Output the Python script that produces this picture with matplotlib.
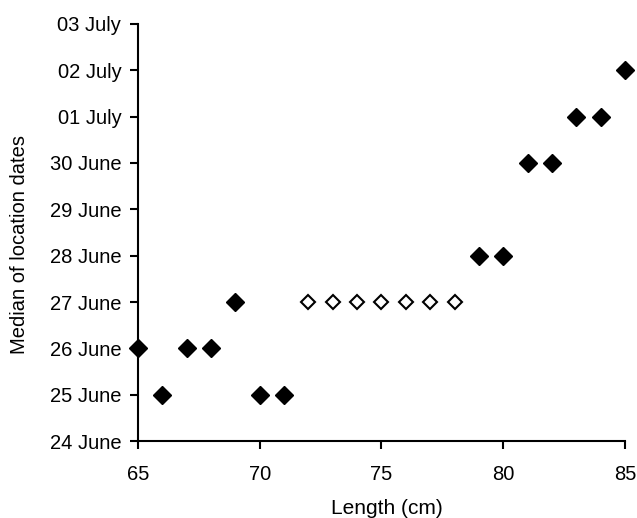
import matplotlib
matplotlib.use('Agg')
import matplotlib.pyplot as plt

plt.rcParams['font.family'] = ['Liberation Sans', 'DejaVu Sans']

# lengths (cm) and median location date (day number, 24 = 24 June, 31 = 01 July)
len_filled = [65, 66, 67, 68, 69, 70, 71, 79, 80, 81, 82, 83, 84, 85]
day_filled = [26, 25, 26, 26, 27, 25, 25, 28, 28, 30, 30, 31, 31, 32]
len_open = [72, 73, 74, 75, 76, 77, 78]
day_open = [27, 27, 27, 27, 27, 27, 27]

y_ticks = [24, 25, 26, 27, 28, 29, 30, 31, 32, 33]
y_labels = ['24 June', '25 June', '26 June', '27 June', '28 June', '29 June',
            '30 June', '01 July', '02 July', '03 July']
x_ticks = [65, 70, 75, 80, 85]

fig = plt.figure(figsize=(6.37, 5.18), dpi=100)
ax = fig.add_axes([0.2166, 0.1486, 0.7645, 0.8051])

ax.plot(len_filled, day_filled, 'D', color='black', markersize=9, clip_on=False)
ax.plot(len_open, day_open, 'D', markerfacecolor='white', markeredgecolor='black',
        markeredgewidth=1.5, markersize=7, clip_on=False)

ax.set_xlim(65, 85)
ax.set_ylim(24, 33)
ax.set_xticks(x_ticks)
ax.set_yticks(y_ticks)
ax.set_yticklabels(y_labels)
ax.tick_params(labelsize=14.5, width=1.5, length=6, direction='out')
ax.tick_params(axis='x', pad=11)
ax.tick_params(axis='y', pad=6)
ax.spines['top'].set_visible(False)
ax.spines['right'].set_visible(False)
ax.spines['left'].set_linewidth(1.5)
ax.spines['bottom'].set_linewidth(1.5)
ax.set_xlabel('Length (cm)', fontsize=15, va='center')
ax.xaxis.set_label_coords(0.608, 0.018, transform=fig.transFigure)
ax.set_ylabel('Median of location dates', fontsize=14.5, va='center')
ax.yaxis.set_label_coords(0.031, 0.528, transform=fig.transFigure)

fig.savefig('out.png', dpi=100)
